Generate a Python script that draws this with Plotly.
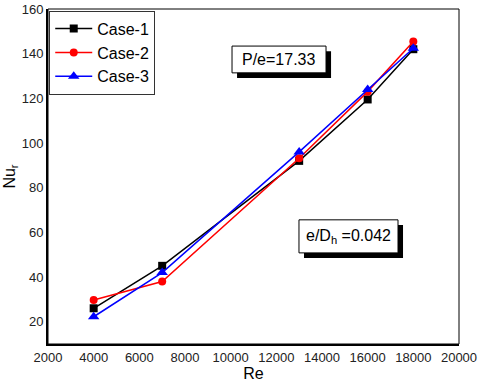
import plotly.graph_objects as go

# data
re_vals = [4000, 7000, 13000, 16000, 18000]
case1 = [26, 45, 92, 119.5, 142]
case2 = [29.7, 38, 93.2, 123, 145.4]
case3 = [22.2, 42, 96, 124, 142.4]

fig = go.Figure()

fig.add_trace(go.Scatter(x=re_vals, y=case1, name="Case-1", mode="lines+markers",
                         line=dict(color="black", width=1.5),
                         marker=dict(symbol="square", size=8, color="black")))
fig.add_trace(go.Scatter(x=re_vals, y=case2, name="Case-2", mode="lines+markers",
                         line=dict(color="red", width=1.5),
                         marker=dict(symbol="circle", size=8, color="red")))
fig.add_trace(go.Scatter(x=re_vals, y=case3, name="Case-3", mode="lines+markers",
                         line=dict(color="blue", width=1.5),
                         marker=dict(symbol="triangle-up", size=10, color="blue")))

# text boxes with drop shadow
def box(cx, cy, w, h, text):
    # w, h in data units; shadow offset a few pixels down-right
    dx, dy = 220, 2.3
    fig.add_shape(type="rect", x0=cx - w / 2 + dx, x1=cx + w / 2 + dx,
                  y0=cy - h / 2 - dy, y1=cy + h / 2 - dy,
                  fillcolor="black", line=dict(color="black", width=0), layer="above")
    fig.add_shape(type="rect", x0=cx - w / 2, x1=cx + w / 2,
                  y0=cy - h / 2, y1=cy + h / 2,
                  fillcolor="white", line=dict(color="black", width=1), layer="above")
    fig.add_annotation(x=cx, y=cy, text=text, showarrow=False,
                       font=dict(family="Arial", size=16, color="black"))

box(12118, 137.4, 4117, 12, "P/e=17.33")
box(15160, 58.2, 4337, 14.8, "e/D<sub>h</sub> =0.042")

# thin frame on top/right
fig.add_shape(type="rect", xref="paper", yref="paper", x0=0, x1=1, y0=0, y1=1,
              line=dict(color="black", width=1), layer="above")

fig.update_layout(
    width=480, height=382,
    margin=dict(l=48, r=21, t=9, b=38),
    paper_bgcolor="white", plot_bgcolor="white",
    font=dict(family="Arial", size=13, color="#222"),
    legend=dict(x=0.003, y=0.995, xanchor="left", yanchor="top",
                bordercolor="#333", borderwidth=1, bgcolor="white",
                font=dict(size=16, color="black"), tracegroupgap=0,
                itemwidth=37),
    showlegend=True,
)
fig.update_xaxes(range=[2000, 20000], dtick=2000, tickformat="d", showgrid=False, zeroline=False,
                 showline=True, linecolor="black", linewidth=2, ticks="", automargin=False,
                 ticklabeloverflow="allow",
                 title=dict(text="Re", font=dict(size=16, color="black"), standoff=0))
fig.update_yaxes(range=[10, 160], tickvals=[20, 40, 60, 80, 100, 120, 140, 160],
                 showgrid=False, zeroline=False, automargin=False,
                 ticklabeloverflow="allow",
                 showline=True, linecolor="black", linewidth=2, ticks="",
                 title=dict(text="Nu<sub>r</sub>", font=dict(size=16, color="black"), standoff=2))

# drop the default 8px page margin so the figure fills the window
fig.write_html("out.html", config={"displayModeBar": False},
               post_script="document.body.style.margin='0';")
